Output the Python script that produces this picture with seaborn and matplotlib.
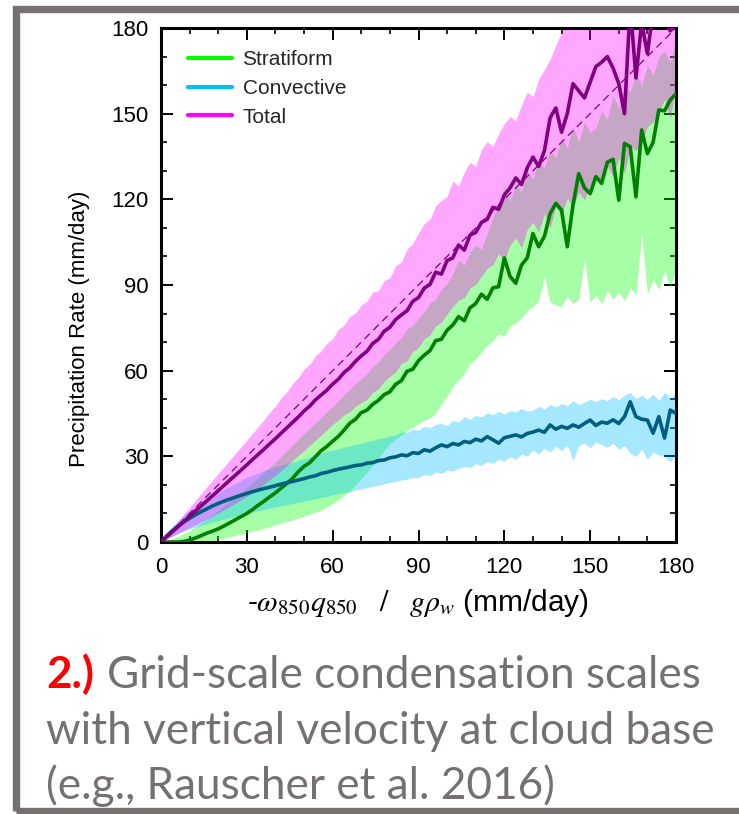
import numpy as np
import pandas as pd
import matplotlib
matplotlib.use("Agg")
import matplotlib.pyplot as plt
from matplotlib import font_manager
from matplotlib.lines import Line2D
from matplotlib.patches import Rectangle
from matplotlib.ticker import MultipleLocator
import seaborn as sns

# ---------------- data ----------------
X = list(range(0, 181, 2))

TOT_MEAN = [0, 1.8, 3.6, 5.4, 7.2, 9.0, 10.8, 12.6, 14.4, 16.2, 18.0, 19.8, 21.6, 23.4, 25.2, 27.0,
            28.9, 30.7, 32.5, 34.4, 36.2, 38.1, 40.0, 41.9, 43.8, 45.9, 47.6, 49.8, 51.5, 53.2, 55.3,
            57.0, 59.4, 61.0, 63.3, 65.2, 66.8, 69.5, 71.0, 73.8, 75.2, 77.9, 79.5, 81.0, 84.3, 85.6,
            88.9, 90.2, 94.5, 93.8, 98.6, 99.5, 104.0, 102.2, 107.5, 108.4, 111.9, 113.0, 117.2, 116.5,
            121.5, 124.0, 127.5, 125.2, 131.0, 134.8, 131.5, 137.0, 148.5, 152.0, 143.5, 150.0, 160.5,
            158.0, 155.5, 161.0, 166.5, 168.0, 170.0, 166.0, 160.5, 150.0, 188.0, 162.5, 182.0, 171.0,
            186.0, 184.0, 182.0, 179.0, 181.0]
TOT_HI = [0, 2.4, 4.9, 7.3, 9.7, 12.1, 14.5, 16.9, 19.3, 21.6, 24.0, 26.3, 28.7, 31.0, 33.4, 35.7,
          38.0, 40.5, 42.8, 45.4, 47.6, 50.5, 52.6, 55.5, 57.6, 60.6, 62.3, 65.2, 67.0, 69.6, 71.2,
          74.5, 76.0, 79.0, 80.2, 83.0, 84.4, 87.5, 88.0, 91.6, 92.5, 96.8, 98.0, 102.6, 104.5, 108.2,
          111.5, 113.0, 117.8, 119.6, 121.0, 126.5, 124.6, 129.5, 133.0, 131.6, 137.5, 140.2, 138.5,
          143.0, 146.5, 149.0, 147.5, 153.0, 157.5, 156.0, 162.0, 165.5, 169.0, 174.0, 178.5, 184.0,
          188.0, 190.0, 192.0, 194.0, 196.0, 198.0, 200.0, 200.0, 200.0, 200.0, 200.0, 200.0, 200.0,
          200.0, 200.0, 200.0, 200.0, 200.0, 200.0]
TOT_LO = [0, 1.0, 2.0, 3.0, 4.0, 5.0, 6.0, 7.0, 8.0, 9.1, 10.2, 11.3, 12.4, 13.6, 14.8, 16.0,
          17.4, 18.8, 20.3, 21.8, 23.4, 25.0, 26.8, 28.5, 30.3, 32.0, 33.9, 35.6, 37.5, 39.3, 41.2,
          42.8, 44.5, 45.6, 47.5, 48.8, 50.0, 52.4, 53.6, 56.3, 58.0, 59.5, 62.5, 63.4, 66.8, 68.0,
          71.2, 72.5, 75.6, 77.0, 79.8, 82.5, 84.7, 85.5, 89.0, 90.2, 93.0, 95.8, 97.0, 101.0, 98.5,
          104.0, 106.5, 103.0, 109.5, 112.0, 108.5, 115.0, 110.0, 117.5, 114.5, 120.5, 117.0, 122.5,
          119.7, 125.0, 129.0, 126.5, 131.5, 128.0, 134.5, 129.0, 138.5, 137.0, 140.0, 145.5, 147.0,
          150.5, 155.0, 148.0, 160.0]

STR_MEAN = [0, 0, 0, 0, 0.2, 0.7, 1.4, 2.2, 3.1, 3.8, 4.6, 5.6, 6.7, 7.8, 8.9, 10.0, 11.4, 12.9,
            14.3, 15.8, 17.2, 18.9, 20.5, 22.3, 24.6, 26.5, 27.8, 29.9, 32.0, 33.5, 35.3, 37.0, 39.2,
            41.6, 43.0, 45.3, 46.2, 48.2, 49.6, 51.6, 52.6, 55.2, 56.5, 59.8, 60.5, 63.5, 65.4, 67.0,
            70.5, 71.0, 74.2, 76.0, 78.9, 77.5, 82.0, 83.5, 86.8, 85.0, 89.0, 89.4, 99.5, 93.0, 90.6,
            97.0, 99.5, 108.0, 103.4, 107.0, 115.0, 118.6, 116.2, 103.4, 118.0, 129.0, 124.0, 122.0,
            128.0, 125.6, 133.0, 134.0, 119.7, 139.6, 138.4, 120.9, 144.3, 136.0, 140.0, 151.3, 151.0,
            154.8, 157.0]
STR_HI = [0, 0.5, 1.2, 2.0, 3.0, 4.0, 5.3, 6.6, 8.0, 9.5, 11.0, 12.6, 14.2, 15.8, 17.4, 19.0, 20.8,
          22.6, 24.4, 26.2, 28.0, 30.0, 32.0, 34.0, 36.0, 38.0, 39.8, 41.8, 43.5, 45.8, 47.5, 49.3,
          51.8, 53.5, 55.5, 57.2, 59.0, 61.6, 63.0, 65.8, 67.2, 69.8, 71.5, 74.6, 75.8, 78.5, 80.5,
          83.8, 85.0, 88.5, 90.6, 94.0, 98.7, 97.0, 101.5, 104.0, 102.5, 108.0, 113.5, 118.0, 124.3,
          119.0, 126.0, 122.5, 130.0, 127.0, 133.5, 131.0, 137.0, 134.5, 141.5, 138.0, 145.5, 140.0,
          147.0, 143.5, 145.0, 151.0, 148.0, 156.5, 152.0, 160.0, 157.5, 164.0, 160.0, 167.0, 163.5,
          170.0, 172.0, 168.0, 176.0]
STR_LO = [0, 0, 0, 0, 0, 0, 0, 0, 0.2, 0.5, 0.9, 1.3, 1.8, 2.3, 2.7, 3.2, 3.7, 4.2, 4.8, 5.4, 6.0,
          6.6, 7.2, 7.8, 8.4, 9.0, 9.7, 10.4, 11.2, 12.3, 13.5, 14.8, 16.3, 18.0, 20.0, 22.2, 24.5,
          27.0, 29.4, 32.0, 34.5, 36.0, 37.5, 39.0, 40.2, 41.5, 42.5, 43.5, 45.0, 48.5, 51.0, 54.5,
          56.7, 59.0, 62.5, 64.0, 66.5, 68.8, 70.5, 73.1, 72.0, 75.5, 76.7, 78.5, 81.0, 82.4, 84.5,
          93.0, 84.0, 83.0, 82.5, 86.0, 83.5, 85.0, 99.0, 84.0, 86.5, 83.5, 88.0, 85.0, 87.5, 84.5,
          89.0, 86.5, 108.0, 87.0, 92.0, 88.5, 95.0, 89.0, 96.0]

CONV_MEAN = [0, 2.2, 4.0, 5.6, 7.0, 8.3, 9.5, 10.6, 11.6, 12.6, 13.5, 14.3, 15.0, 15.7, 16.4, 17.0,
             17.6, 18.2, 18.7, 19.2, 19.7, 20.3, 20.8, 21.2, 21.7, 22.2, 22.8, 23.2, 24.0, 24.4, 25.0,
             25.5, 25.9, 26.3, 26.8, 27.0, 27.6, 27.8, 28.5, 28.7, 29.5, 29.8, 30.5, 30.2, 31.3, 31.0,
             32.3, 31.8, 33.0, 34.0, 33.4, 34.5, 34.0, 35.2, 34.8, 36.0, 35.4, 36.9, 35.8, 34.6, 36.5,
             37.0, 37.5, 36.8, 38.0, 38.5, 39.2, 38.4, 41.0, 39.5, 40.5, 39.8, 41.0, 40.2, 41.5, 42.7,
             40.8, 42.0, 41.6, 42.8, 41.5, 43.9, 49.1, 43.9, 43.0, 42.7, 38.1, 43.9, 36.4, 46.2, 45.0]
CONV_HI = [0, 3.0, 5.5, 7.6, 9.4, 11.0, 12.5, 13.9, 15.1, 16.3, 17.4, 18.5, 19.5, 20.5, 21.6, 22.6,
           23.4, 24.2, 25.0, 25.7, 26.3, 26.9, 27.5, 28.0, 28.6, 29.2, 29.8, 30.5, 31.0, 31.7, 32.2,
           32.6, 33.3, 33.6, 34.3, 34.5, 35.2, 35.5, 36.2, 36.4, 37.2, 37.4, 38.6, 38.4, 39.5, 39.2,
           40.5, 40.0, 41.2, 41.5, 40.8, 42.6, 42.0, 43.9, 43.0, 44.3, 43.8, 45.2, 44.5, 45.8, 44.8,
           46.0, 45.5, 46.8, 45.8, 46.2, 47.5, 46.6, 48.2, 47.3, 48.5, 47.8, 49.5, 48.2, 49.0, 50.0,
           49.2, 50.2, 49.5, 51.0, 49.8, 51.5, 52.5, 50.2, 51.5, 50.0, 51.8, 49.5, 52.5, 50.5, 52.0]
CONV_LO = [0, 1.2, 2.2, 3.1, 3.9, 4.6, 5.2, 5.8, 6.4, 7.0, 7.5, 8.0, 8.5, 9.0, 9.5, 10.0, 10.5,
           11.0, 11.4, 11.8, 12.3, 12.7, 13.1, 13.5, 13.9, 14.3, 14.7, 15.1, 15.6, 16.0, 16.5, 16.9,
           17.3, 17.6, 18.2, 18.5, 19.0, 19.5, 19.8, 20.4, 20.8, 21.2, 21.7, 22.0, 22.6, 22.5, 23.6,
           23.2, 24.5, 24.0, 25.2, 24.8, 25.8, 26.4, 26.0, 27.4, 26.8, 28.2, 27.5, 29.0, 28.3, 29.8,
           29.0, 30.8, 30.0, 32.2, 30.8, 32.8, 31.5, 33.5, 32.0, 34.0, 28.5, 33.8, 34.6, 33.0, 35.0,
           34.0, 33.2, 34.5, 32.5, 33.8, 31.1, 30.0, 32.5, 29.0, 31.5, 30.5, 29.9, 28.0, 31.0]

REF_X = [0, 180]
REF_Y = [0, 180]

LABELS = ["Stratiform", "Convective", "Total"]
XTICKS = [0, 30, 60, 90, 120, 150, 180]
YTICKS = [0, 30, 60, 90, 120, 150, 180]
CAPTION_1A = "2.)"
CAPTION_1B = "Grid-scale condensation scales"
CAPTION_2 = "with vertical velocity at cloud base"
CAPTION_3 = "(e.g., Rauscher et al. 2016)"

# ---------------- styling ----------------
sns.set_theme(style="ticks")
names = {f.name for f in font_manager.fontManager.ttflist}
NARROW = "Liberation Sans Narrow" if "Liberation Sans Narrow" in names else None
plt.rcParams["font.family"] = ["Liberation Sans", "DejaVu Sans"]
plt.rcParams["mathtext.fontset"] = "stix"

BAND_G = (0.0, 1.0, 0.0)
BAND_B = (0.0, 0.75, 1.0)
BAND_P = (1.0, 0.0, 1.0)
LINE_G = "#008000"
LINE_B = "#005f80"
LINE_P = "#800080"
GREY = "#767171"

W, H = 739, 814
fig = plt.figure(figsize=(W / 100, H / 100), dpi=100)
ax = fig.add_axes([161 / W, (H - 542) / H, 515 / W, 514 / H])

df = pd.DataFrame({
    "x": X * 3,
    "y": STR_MEAN + CONV_MEAN + TOT_MEAN,
    "kind": ["Stratiform"] * len(X) + ["Convective"] * len(X) + ["Total"] * len(X),
})

alpha = 0.35
ax.fill_between(X, STR_LO, STR_HI, color=BAND_G, alpha=alpha, lw=0, zorder=1)
ax.fill_between(X, CONV_LO, CONV_HI, color=BAND_B, alpha=alpha, lw=0, zorder=1.1)
ax.fill_between(X, TOT_LO, TOT_HI, color=BAND_P, alpha=alpha, lw=0, zorder=1.2)

sns.lineplot(data=df, x="x", y="y", hue="kind", hue_order=LABELS,
             palette={"Stratiform": LINE_G, "Convective": LINE_B, "Total": LINE_P},
             linewidth=2.6, legend=False, ax=ax, zorder=3)
ax.plot(REF_X, REF_Y, color=LINE_P, lw=0.9, dashes=(6, 4), zorder=4)

ax.set_xlim(0, 180)
ax.set_ylim(0, 180)
ax.set_xticks(XTICKS)
ax.set_yticks(YTICKS)
ax.xaxis.set_minor_locator(MultipleLocator(10))
ax.yaxis.set_minor_locator(MultipleLocator(10))
for s in ax.spines.values():
    s.set_linewidth(2.2)
    s.set_color("black")
    s.set_visible(True)
ax.tick_params(which="major", direction="in", length=8.6, width=1.4, top=True, right=True,
               color="black", pad=11)
ax.tick_params(which="minor", direction="in", length=4.3, width=1.2, top=True, right=True,
               color="black")
tick_font = dict(family=NARROW, size=19) if NARROW else dict(family="Liberation Sans", size=16)
for lab in ax.get_xticklabels() + ax.get_yticklabels():
    lab.set_fontfamily(tick_font["family"])
    lab.set_fontsize(tick_font["size"])
    lab.set_color("black")
ax.tick_params(axis="y", pad=9)

ax.set_ylabel("Precipitation Rate (mm/day)", fontsize=20.5 if NARROW else 16,
              family=NARROW if NARROW else "Liberation Sans", color="black")
ax.yaxis.set_label_coords(-0.138, 0.414)
ax.set_xlabel(r"-$\omega_{\mathit{850}}q_{\mathit{850}}\quad/\quad g\rho_w$ (mm/day)",
              fontsize=21.5, color="black", labelpad=6)
ax.set_facecolor("white")

handles = [Line2D([], [], color=c, lw=3) for c in ("#00ff00", "#00bfff", "#ff00ff")]
ax.legend(handles, LABELS, loc="upper left", bbox_to_anchor=(0.045, 0.965), frameon=False,
          fontsize=15, handlelength=2.1, handletextpad=0.5, labelspacing=0.47, borderpad=0.2,
          borderaxespad=0)

# ---------------- caption ----------------
renderer = fig.canvas.get_renderer()
probe = fig.text(0, 0, CAPTION_2, fontsize=34, family="Lato")
bw = probe.get_window_extent(renderer).width
probe.remove()
fs = 34 * 669 / bw

fig.text(46 / W, 1 - 688 / H, CAPTION_1A, fontsize=fs, family="Lato", weight="bold",
         color="#ff0000", va="baseline")
fig.text(107 / W, 1 - 688 / H, CAPTION_1B, fontsize=fs, family="Lato", color=GREY, va="baseline")
fig.text(46 / W, 1 - 744 / H, CAPTION_2, fontsize=fs, family="Lato", color=GREY, va="baseline")
fig.text(46 / W, 1 - 799 / H, CAPTION_3, fontsize=fs, family="Lato", color=GREY, va="baseline")

# grey frame
fig.patches.append(Rectangle((15.9 / W, 3 / H), 1.05, (H - 9.4) / H - 3 / H,
                             transform=fig.transFigure, fill=False, edgecolor=GREY,
                             linewidth=5.3, zorder=0))

fig.savefig("out.png", dpi=100)
